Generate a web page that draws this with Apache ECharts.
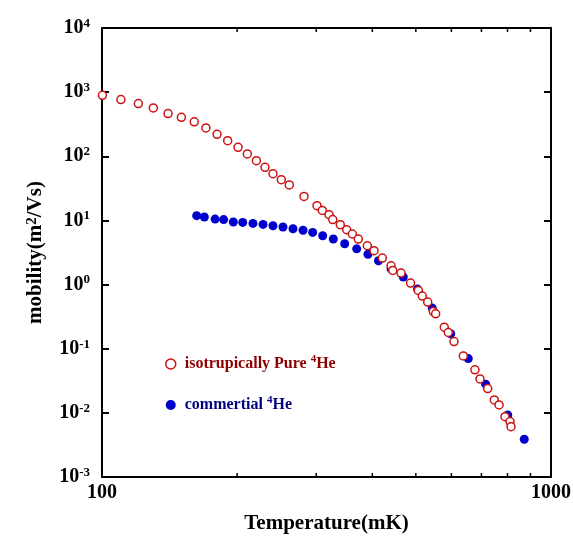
<!DOCTYPE html>
<html>
<head>
<meta charset="utf-8">
<script src="https://cdn.jsdelivr.net/npm/echarts@6/dist/echarts.min.js"></script>
<style>
  html, body { margin: 0; padding: 0; background: #fff; }
  #chart { width: 573px; height: 538px; }
</style>
</head>
<body>
<div id="chart"></div>
<script>
// isotopically pure 4He (open red circles)
const pureT = [100.2, 110.2, 120.5, 130.1, 140.3, 150.2, 160.5, 170.4, 180.4, 190.5, 200.9, 210.7, 220.7, 230.7, 240.3, 250.8, 261.3, 281.8, 301.2, 309.5, 320.4, 326.5, 339.4, 350.8, 361.0, 372.3, 389.9, 403.5, 421.1, 440.3, 444.1, 463.4, 486.5, 506.4, 516.9, 531.3, 546.9, 553.5, 578.5, 590.5, 608.1, 637.8, 676.9, 694.9, 722.8, 747.7, 766.1, 790.0, 810.5, 814.6]
const pureMu = [893, 766, 663, 568, 463, 405, 344, 277, 220, 175, 138, 109, 85.5, 67.2, 53.6, 43.2, 35.7, 23.7, 17.0, 14.3, 12.3, 10.3, 8.57, 7.16, 6.14, 5.13, 4.03, 3.37, 2.59, 1.96, 1.66, 1.51, 1.055, 0.809, 0.661, 0.533, 0.380, 0.350, 0.217, 0.179, 0.129, 0.0773, 0.0468, 0.0338, 0.0239, 0.0159, 0.0133, 0.00873, 0.0073, 0.0061]

// commercial 4He (filled blue dots)
const commT = [162.5, 169.0, 178.6, 186.6, 196.1, 205.8, 216.9, 228.4, 240.3, 253.0, 266.3, 280.4, 294.6, 310.1, 327.5, 347.1, 369.2, 391.2, 412.8, 440.3, 468.8, 504.3, 544.0, 597.9, 654.3, 715.4, 801.0, 871.9]
const commMu = [11.86, 11.3, 10.5, 10.3, 9.44, 9.31, 8.98, 8.67, 8.26, 7.89, 7.43, 7.03, 6.50, 5.77, 5.13, 4.33, 3.61, 2.97, 2.35, 1.76, 1.31, 0.85, 0.43, 0.171, 0.0702, 0.028, 0.00929, 0.00388]

// axes
const xRange = [100, 1000]
const yRange = [0.001, 10000]
const xMinorTicks = [200, 300, 400, 500, 600, 700, 800, 900]
const yExponents = ['-3', '-2', '-1', '0', '1', '2', '3', '4']

const pureName = 'isotrupically Pure 4He'
const commName = 'commertial 4He'

const serif = '"Liberation Serif", "Times New Roman", serif'

const chart = echarts.init(document.getElementById('chart'))

const zip = (a, b) => a.map((v, i) => [v, b[i]])

function yLabel(v) {
  const e = Math.round(Math.log10(v))
  const s = yExponents.find((x) => +x === e)
  return '{b|10}{s|' + s + '}'
}

const baseAxis = {
  axisLine: { show: true, onZero: false, lineStyle: { color: '#000', width: 2 } },
  axisTick: { show: true, inside: true, length: 7, lineStyle: { color: '#000', width: 2 } },
  splitLine: { show: false }
}

const option = {
  backgroundColor: '#fff',
  animation: false,
  grid: { left: 102, right: 22, top: 28, bottom: 61, outerBoundsMode: 'none', containLabel: false },
  xAxis: [
    {
      ...baseAxis,
      type: 'log',
      logBase: 10,
      min: xRange[0],
      max: xRange[1],
      position: 'bottom',
      name: 'Temperature(mK)',
      nameLocation: 'middle',
      nameGap: 36,
      nameTextStyle: { fontFamily: serif, fontWeight: 'bold', fontSize: 21, color: '#000' },
      axisLabel: {
        fontFamily: serif, fontWeight: 'bold', fontSize: 20, color: '#000', margin: 6,
        formatter: (v) => String(Math.round(v))
      }
    },
    {
      ...baseAxis,
      type: 'log',
      logBase: 10,
      min: xRange[0],
      max: xRange[1],
      position: 'top',
      axisLabel: { show: false }
    }
  ],
  yAxis: [
    {
      ...baseAxis,
      type: 'log',
      logBase: 10,
      min: yRange[0],
      max: yRange[1],
      interval: 1,
      position: 'left',
      name: 'mobility(m{s|2}/Vs)',
      nameLocation: 'middle',
      nameGap: 56,
      nameRotate: 90,
      nameTextStyle: {
        fontFamily: serif, fontWeight: 'bold', fontSize: 21, color: '#000',
        rich: { s: { fontFamily: serif, fontWeight: 'bold', fontSize: 15, color: '#000', verticalAlign: 'top' } }
      },
      axisLabel: {
        margin: 12,
        formatter: yLabel,
        rich: {
          b: { fontFamily: serif, fontWeight: 'bold', fontSize: 20, color: '#000', lineHeight: 22 },
          s: { fontFamily: serif, fontWeight: 'bold', fontSize: 13, color: '#000', verticalAlign: 'top', lineHeight: 22, padding: [0, 0, 8, 0] }
        }
      }
    },
    {
      ...baseAxis,
      type: 'log',
      logBase: 10,
      min: yRange[0],
      max: yRange[1],
      interval: 1,
      position: 'right',
      axisLabel: { show: false }
    }
  ],
  legend: {
    orient: 'vertical',
    left: 160,
    top: 349,
    itemGap: 23,
    itemWidth: 12,
    itemHeight: 10,
    data: [
      { name: pureName, icon: 'circle', itemStyle: { color: '#fff', borderColor: '#cc1111', borderWidth: 1.5, opacity: 1 } },
      { name: commName, icon: 'circle', itemStyle: { color: '#0000cc', borderWidth: 0, opacity: 1 } }
    ],
    formatter: (name) =>
      name === pureName
        ? '{r|isotrupically Pure }{rs|4}{r|He}'
        : '{b|commertial }{bs|4}{b|He}',
    textStyle: {
      padding: [0, 0, 0, 3],
      rich: {
        r: { fontFamily: serif, fontWeight: 'bold', fontSize: 16, color: '#8b0000', lineHeight: 20 },
        rs: { fontFamily: serif, fontWeight: 'bold', fontSize: 11, color: '#8b0000', verticalAlign: 'top', lineHeight: 20, padding: [0, 0, 6, 0] },
        b: { fontFamily: serif, fontWeight: 'bold', fontSize: 16, color: '#000080', lineHeight: 20 },
        bs: { fontFamily: serif, fontWeight: 'bold', fontSize: 11, color: '#000080', verticalAlign: 'top', lineHeight: 20, padding: [0, 0, 6, 0] }
      }
    }
  },
  series: [
    {
      name: commName,
      type: 'scatter',
      symbol: 'circle',
      symbolSize: 9,
      itemStyle: { color: '#0000cc', opacity: 1 },
      data: zip(commT, commMu),
      z: 2
    },
    {
      name: pureName,
      type: 'scatter',
      symbol: 'circle',
      symbolSize: 8,
      itemStyle: { color: '#fff', borderColor: '#cc1111', borderWidth: 1.5, opacity: 1 },
      data: zip(pureT, pureMu),
      z: 3
    },
    {
      // minor ticks at 200..900 on bottom and top axes
      type: 'custom',
      silent: true,
      z: 4,
      data: xMinorTicks.map((t) => [t]),
      renderItem: (params, api) => {
        const b = api.coord([api.value(0), yRange[0]])
        const t = api.coord([api.value(0), yRange[1]])
        const style = { stroke: '#000', lineWidth: 1.5 }
        return {
          type: 'group',
          children: [
            { type: 'line', shape: { x1: b[0], y1: b[1], x2: b[0], y2: b[1] - 4 }, style },
            { type: 'line', shape: { x1: t[0], y1: t[1], x2: t[0], y2: t[1] + 4 }, style }
          ]
        }
      }
    }
  ]
}

chart.setOption(option)
</script>
</body>
</html>
